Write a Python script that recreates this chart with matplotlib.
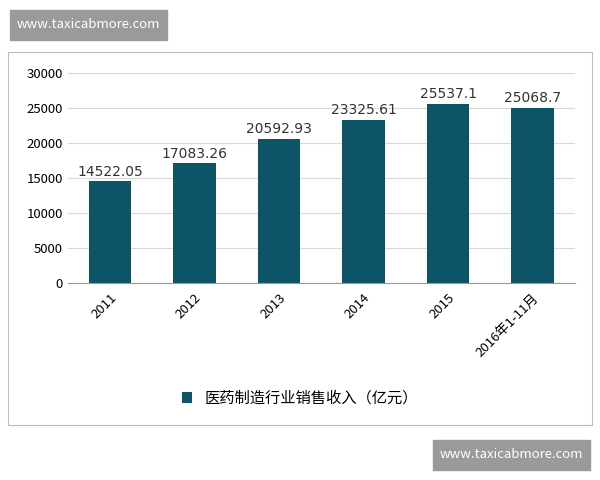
import matplotlib.pyplot as plt
from matplotlib.patches import Rectangle

plt.rcParams['font.family'] = ['Noto Sans CJK SC', 'DejaVu Sans']

years = ['2011', '2012', '2013', '2014', '2015', '2016年1-11月']
revenue = [14522.05, 17083.26, 20592.93, 23325.61, 25537.1, 25068.7]
value_labels = ['14522.05', '17083.26', '20592.93', '23325.61', '25537.1', '25068.7']

fig = plt.figure(figsize=(6, 4.8), dpi=100)
fig.patch.set_facecolor('white')

# outer frame of the chart
fig.patches.append(Rectangle((8/600, 1-425/480), 584/600, 373/480, transform=fig.transFigure,
                             fill=False, edgecolor='#bbbbbb', linewidth=0.8))

ax = fig.add_axes([0.113, 0.410, 0.845, 0.438])
bars = ax.bar(range(len(years)), revenue, width=0.5, color='#0d5566', label='医药制造行业销售收入（亿元）')
for i, v in enumerate(revenue):
    ax.text(i, v + 400, value_labels[i], ha='center', va='bottom', fontsize=10, color='#333333',
            family=['DejaVu Sans'])

ax.set_ylim(0, 30000)
ax.set_yticks(range(0, 30001, 5000))
ax.set_xlim(-0.5, len(years) - 0.5)
ax.set_xticks(range(len(years)))
ax.set_xticklabels(years, rotation=45, ha='right', rotation_mode='anchor', fontsize=9.5)
ax.tick_params(axis='y', labelsize=9.5, length=0)
ax.tick_params(axis='x', length=0, pad=6)
ax.grid(axis='y', color='#d9d9d9', linewidth=0.8)
ax.set_axisbelow(True)
for s in ['top', 'right', 'left']:
    ax.spines[s].set_visible(False)
ax.spines['bottom'].set_color('#999999')

fig.legend(handles=[bars], labels=['医药制造行业销售收入（亿元）'], loc='center',
           bbox_to_anchor=(0.5, 1-398/480), frameon=False, fontsize=11,
           handlelength=0.7, handleheight=0.7)

# watermarks
for x0, y0 in [(10, 10), (433, 440)]:
    fig.patches.append(Rectangle((x0/600, 1-(y0+30)/480), 157/600, 30/480,
                                 transform=fig.transFigure, color='#9a9a9a'))
    fig.text((x0+78.5)/600, 1-(y0+15)/480, 'www.taxicabmore.com', color='white',
             ha='center', va='center', fontsize=9.5)

fig.savefig('out.png', dpi=100)
